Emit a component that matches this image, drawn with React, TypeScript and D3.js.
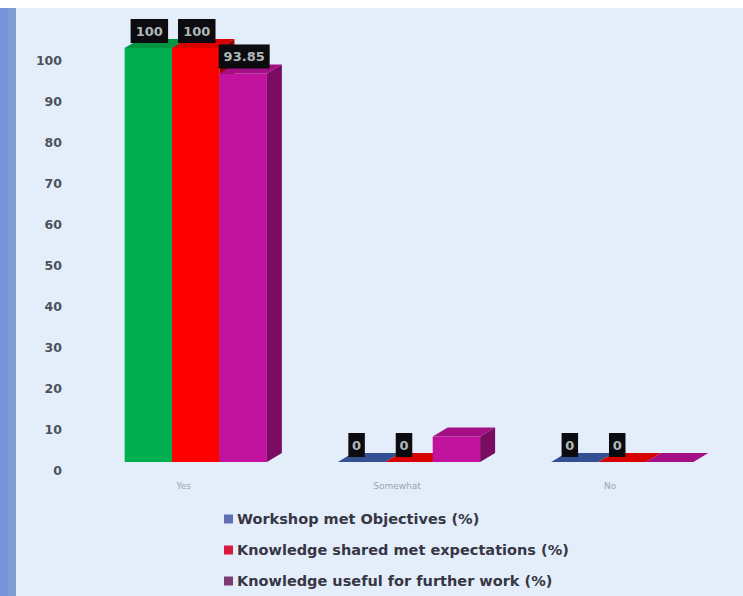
import React from "react";
import * as d3 from "d3";

// Survey categories and the three feedback series (percent of respondents)
const categories = ["Yes", "Somewhat", "No"];
const seriesNames = [
  "Workshop met Objectives (%)",
  "Knowledge shared met expectations (%)",
  "Knowledge useful for further work (%)",
];
const objectivesMet = [100, 0, 0];
const expectationsMet = [100, 0, 0];
const usefulForWork = [93.85, 6.15, 0];
const seriesValues = [objectivesMet, expectationsMet, usefulForWork];
// which points carry a value label
const labelShown = [
  [true, true, true],
  [true, true, true],
  [true, false, false],
];
const yTicks = [0, 10, 20, 30, 40, 50, 60, 70, 80, 90, 100];

const seriesColors = ["#3d5dab", "#ff0000", "#c0129c"];
const legendColors = ["#5f6fb4", "#d81a42", "#7c3a72"];
// the "Yes" point of the first series is filled green
const pointOverride: Record<string, string> = { "0-Yes": "#00b050" };

const W = 743;
const H = 596;
const DX = 15; // 3D depth offset
const DY = -9;

export default function App() {
  const xCat = d3
    .scaleBand<string>()
    .domain(categories)
    .range([82, 736])
    .paddingInner(0.333)
    .paddingOuter(0.2);
  const xSer = d3
    .scaleBand<number>()
    .domain([0, 1, 2])
    .range([0, xCat.bandwidth()])
    .padding(0);
  const yBar = d3.scaleLinear().domain([0, 100]).range([462, 48]);
  const yAxis = d3.scaleLinear().domain([0, 100]).range([470, 60]);

  const bars: React.ReactNode[] = [];
  const labels: React.ReactNode[] = [];

  categories.forEach((cat, ci) => {
    seriesValues.forEach((vals, si) => {
      const v = vals[ci];
      const x0 = (xCat(cat) as number) + (xSer(si) as number);
      const w = xSer.bandwidth();
      const yT = yBar(v);
      const yB = yBar(0);
      const base = pointOverride[`${si}-${cat}`] || seriesColors[si];
      const c = d3.color(base)!;
      const topC = c.darker(0.45).formatHex();
      const sideC = c.darker(1.3).formatHex();
      const key = `${ci}-${si}`;
      bars.push(
        <g key={key}>
          <rect x={x0} y={yT} width={w} height={yB - yT} fill={base} />
          <polygon
            points={`${x0},${yT} ${x0 + w},${yT} ${x0 + w + DX},${yT + DY} ${x0 + DX},${yT + DY}`}
            fill={topC}
          />
          <polygon
            points={`${x0 + w},${yT} ${x0 + w + DX},${yT + DY} ${x0 + w + DX},${yB + DY} ${x0 + w},${yB}`}
            fill={sideC}
          />
        </g>
      );
      if (labelShown[si][ci]) {
        const txt = String(v);
        const digits = txt.replace(".", "").length;
        const bw = digits * 10.5 + (txt.includes(".") ? 3 : 0) + 6;
        const bh = 24;
        // labels on flat (zero) bars sit a little left of the bar centre
        const cx = x0 + w / 2 + (v === 0 ? -5 : 1);
        const bottom = yT - 5;
        labels.push(
          <g key={`l${key}`}>
            <rect x={cx - bw / 2} y={bottom - bh} width={bw} height={bh} fill="#0b0b10" />
            <text
              x={cx}
              y={bottom - bh / 2}
              dy="0.36em"
              textAnchor="middle"
              fontSize={13}
              fontWeight="bold"
              fontFamily="DejaVu Sans, sans-serif"
              fill="#b0b8b8"
            >
              {txt}
            </text>
          </g>
        );
      }
    });
  });

  return (
    <svg
      width={W}
      height={H}
      style={{ position: "absolute", left: 0, top: 0, display: "block" }}
    >
      <rect x={0} y={0} width={W} height={H} fill="#ffffff" />
      <rect x={0} y={8} width={W} height={H - 8} fill="#e4eefb" />
      <rect x={0} y={8} width={8} height={H - 8} fill="#7893d8" />
      <rect x={8} y={8} width={8} height={H - 8} fill="#809dd2" />

      {yTicks.map((t) => (
        <text
          key={t}
          x={62}
          y={yAxis(t)}
          dy="0.36em"
          textAnchor="end"
          fontSize={12.5}
          fontWeight="bold"
          fontFamily="DejaVu Sans, sans-serif"
          fill="#4a525c"
        >
          {t}
        </text>
      ))}

      {bars}
      {labels}

      {categories.map((cat) => (
        <text
          key={cat}
          x={(xCat(cat) as number) + xCat.bandwidth() / 2 - 12}
          y={486}
          dy="0.36em"
          textAnchor="middle"
          fontSize={9}
          fontFamily="DejaVu Sans, sans-serif"
          fill="#9ba3aa"
        >
          {cat}
        </text>
      ))}

      {seriesNames.map((name, i) => (
        <g key={name} transform={`translate(224, ${519 + i * 31})`}>
          <rect x={0} y={-4.5} width={9} height={9} fill={legendColors[i]} />
          <text
            x={13}
            y={0}
            dy="0.36em"
            fontSize={14.5}
            fontWeight="bold"
            fontFamily="DejaVu Sans, sans-serif"
            fill="#363644"
          >
            {name}
          </text>
        </g>
      ))}
    </svg>
  );
}
